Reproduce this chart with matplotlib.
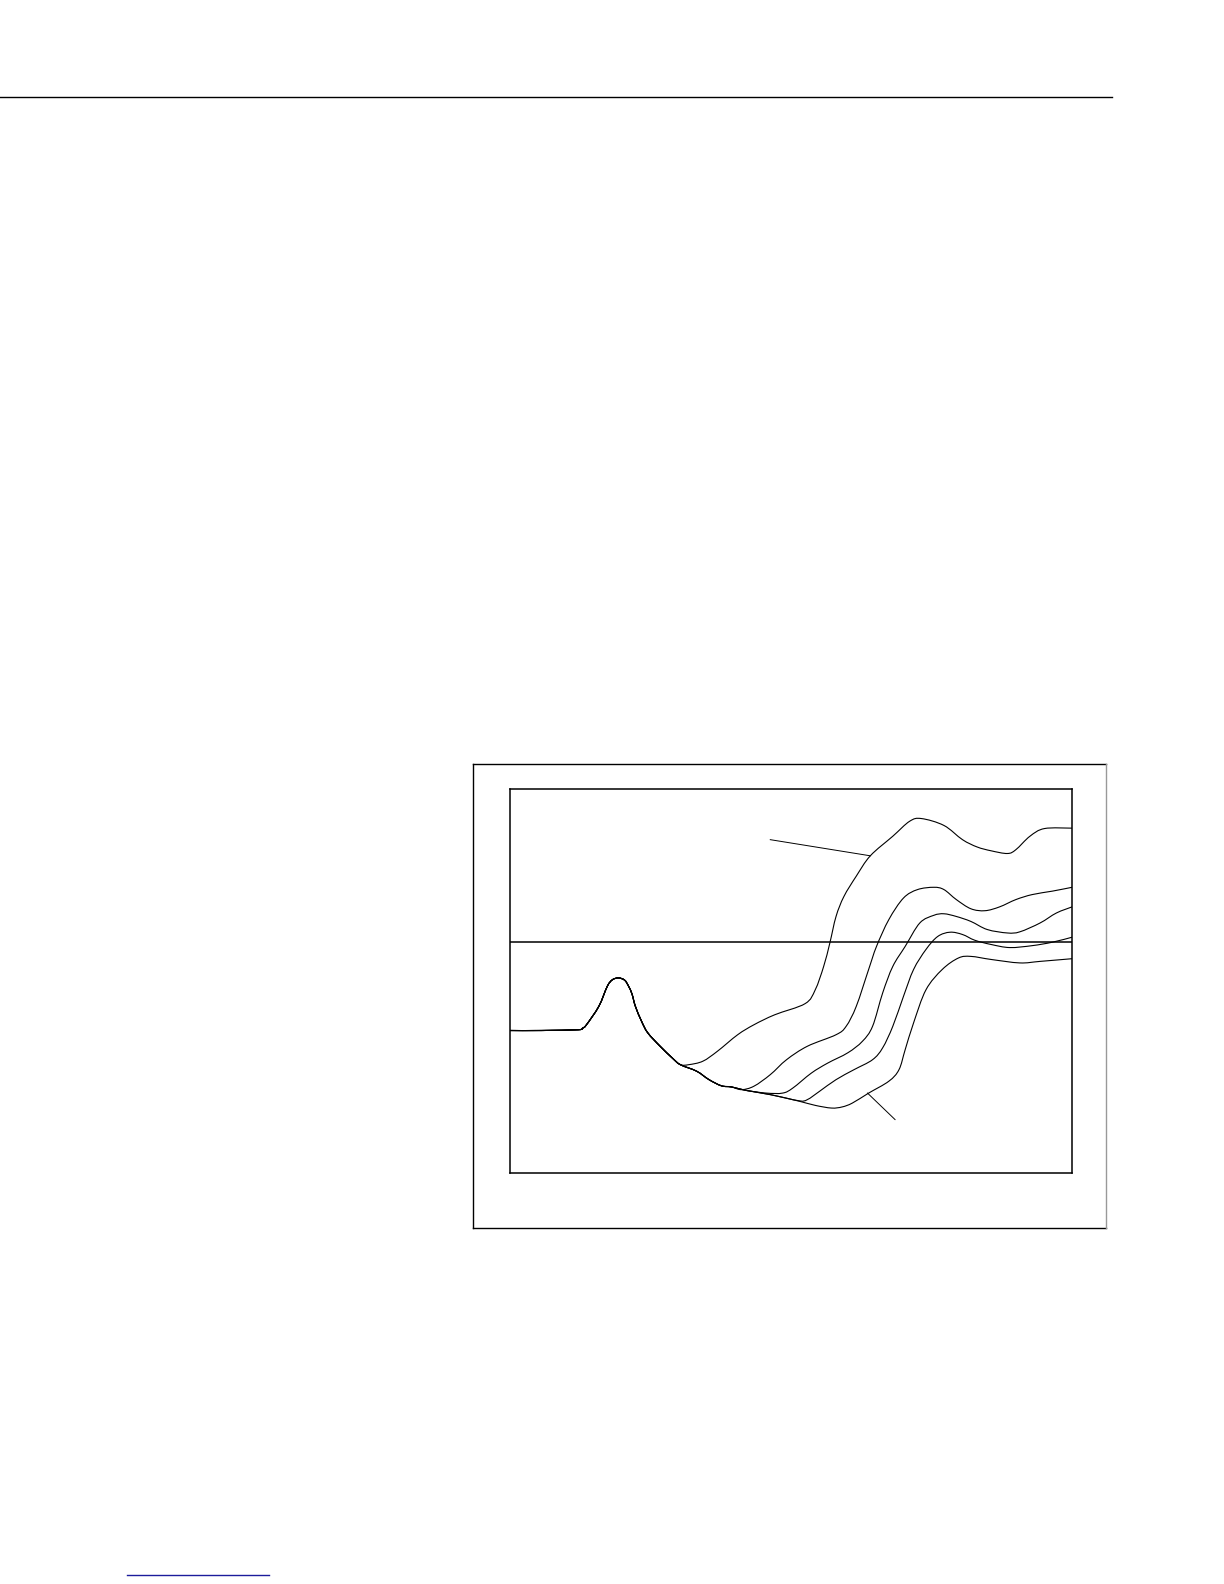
import numpy as np
import matplotlib
matplotlib.use("Agg")
import matplotlib.pyplot as plt
from matplotlib.lines import Line2D
from matplotlib.path import Path
from matplotlib.patches import PathPatch

# shared start of all five traces
base_x = [0.0, 5.6, 12.1, 12.9, 13.6, 15.8, 17.3, 18.2, 19.3, 20.4, 21.1, 21.7, 22.3, 23.4,
          24.5, 26.7, 28.9, 30.3, 33.2, 35.4, 37.6, 39.4, 42.0, 46.3]
base_y = [37.1, 37.1, 37.3, 37.7, 38.6, 43.4, 48.6, 50.3, 50.8, 50.2, 48.6, 46.6, 43.4, 39.5,
          36.5, 33.0, 29.9, 28.2, 26.5, 24.3, 22.7, 22.4, 21.5, 20.4]

# branches: index in base where each one leaves it, then its own points
c1_from = 17
c1_x = [31.8, 34.3, 36.9, 40.5, 43.4, 47.1, 52.5, 54.3, 55.8, 56.9, 58.0, 59.4, 61.6, 64.1,
        68.1, 71.1, 73.2, 77.2, 80.5, 83.1, 85.6, 88.5, 90.0, 92.5, 95.1, 100.0]
c1_y = [28.2, 29.1, 31.7, 36.0, 38.6, 41.2, 44.1, 47.7, 53.8, 59.9, 66.8, 72.0, 77.3, 82.6,
        87.7, 91.6, 92.3, 90.5, 86.8, 84.9, 83.9, 83.2, 84.2, 87.7, 89.7, 89.8]

c2_from = 21
c2_x = [41.2, 43.4, 46.3, 49.2, 52.9, 58.0, 59.8, 61.6, 63.8, 65.2, 67.4, 70.0, 72.5, 75.4,
        77.2, 79.4, 82.0, 84.5, 87.1, 90.0, 92.9, 96.5, 100.0]
c2_y = [21.7, 22.6, 25.6, 29.5, 33.0, 36.0, 38.2, 43.4, 53.0, 59.0, 66.0, 71.6, 73.8, 74.4,
        73.8, 71.2, 68.8, 68.3, 69.3, 71.2, 72.5, 73.4, 74.4]

c3_from = 22
c3_x = [45.6, 48.5, 50.3, 53.6, 56.5, 60.1, 62.7, 64.5, 66.3, 68.1, 70.3, 72.9, 75.4, 77.2,
        79.4, 82.0, 84.9, 88.5, 90.7, 94.3, 97.2, 100.0]
c3_y = [20.8, 20.8, 22.1, 26.0, 28.6, 31.3, 34.3, 38.2, 46.9, 53.8, 59.0, 65.1, 67.1, 67.5,
        66.8, 65.5, 63.4, 62.5, 62.8, 65.1, 67.7, 69.3]

c4_from = 23
c4_x = [51.4, 52.9, 55.1, 58.0, 61.2, 64.5, 66.3, 68.1, 70.0, 71.8, 74.0, 76.1, 78.3, 80.5,
        82.7, 85.6, 88.9, 92.9, 96.5, 100.0]
c4_y = [18.8, 19.1, 21.3, 24.3, 26.9, 29.5, 32.6, 38.2, 46.0, 53.0, 58.2, 61.6, 62.7, 62.1,
        60.6, 59.5, 58.7, 59.2, 60.1, 61.4]

c5_from = 23
c5_x = [51.4, 54.3, 57.2, 59.1, 60.9, 63.8, 67.4, 69.2, 70.3, 71.8, 74.0, 76.9, 79.8, 82.0,
        85.6, 90.7, 94.3, 100.0]
c5_y = [18.7, 17.6, 16.9, 17.2, 18.2, 20.8, 23.9, 26.9, 32.1, 39.1, 47.7, 53.0, 56.0, 56.4,
        55.6, 54.7, 55.1, 55.8]

ref_level = 60.2
pointer_top_x = [46.3, 64.1]
pointer_top_y = [86.8, 82.6]
pointer_bot_x = [63.6, 68.5]
pointer_bot_y = [20.8, 13.9]


def smooth_path(xs, ys):
    # cubic bezier through the read points (catmull-rom style handles)
    p = np.column_stack([xs, ys])
    verts = [p[0]]
    codes = [Path.MOVETO]
    for i in range(len(p) - 1):
        p0 = p[i - 1] if i > 0 else p[i]
        p3 = p[i + 2] if i + 2 < len(p) else p[i + 1]
        c1 = p[i] + (p[i + 1] - p0) / 6.0
        c2 = p[i + 1] - (p3 - p[i]) / 6.0
        verts += [c1, c2, p[i + 1]]
        codes += [Path.CURVE4] * 3
    return Path(verts, codes)


fig = plt.figure(figsize=(12.24, 15.84), dpi=100)

# page header rule and footer link underline
fig.add_artist(Line2D([0, 0.9085], [0.9388, 0.9388], color="black", lw=1.0))
fig.add_artist(Line2D([0.1038, 0.2198], [0.0057, 0.0057], color="#1c1c9c", lw=1.0))

# outer figure frame
fl, fr, fb, ft = 0.3864, 0.9036, 0.2247, 0.5177
fig.add_artist(Line2D([fl, fr], [ft, ft], color="black", lw=1.0))
fig.add_artist(Line2D([fl, fl], [fb, ft], color="black", lw=1.0))
fig.add_artist(Line2D([fl, fr], [fb, fb], color="black", lw=1.0))
fig.add_artist(Line2D([fr, fr], [fb, ft], color="#999999", lw=1.0))

ax = fig.add_axes([0.4167, 0.2595, 0.4592, 0.2424])
ax.set_xlim(0, 100)
ax.set_ylim(0, 100)
ax.set_xticks([])
ax.set_yticks([])
for s in ax.spines.values():
    s.set_linewidth(1.1)

for start, bx, by in [(c1_from, c1_x, c1_y), (c2_from, c2_x, c2_y), (c3_from, c3_x, c3_y),
                      (c4_from, c4_x, c4_y), (c5_from, c5_x, c5_y)]:
    xs = base_x[:start + 1] + bx
    ys = base_y[:start + 1] + by
    ax.add_patch(PathPatch(smooth_path(xs, ys), facecolor="none", edgecolor="black",
                           lw=0.8, capstyle="round", joinstyle="round"))

ax.axhline(ref_level, color="black", lw=1.1)
ax.plot(pointer_top_x, pointer_top_y, color="black", lw=0.7)
ax.plot(pointer_bot_x, pointer_bot_y, color="black", lw=0.7)

fig.savefig("out.png", dpi=100)
